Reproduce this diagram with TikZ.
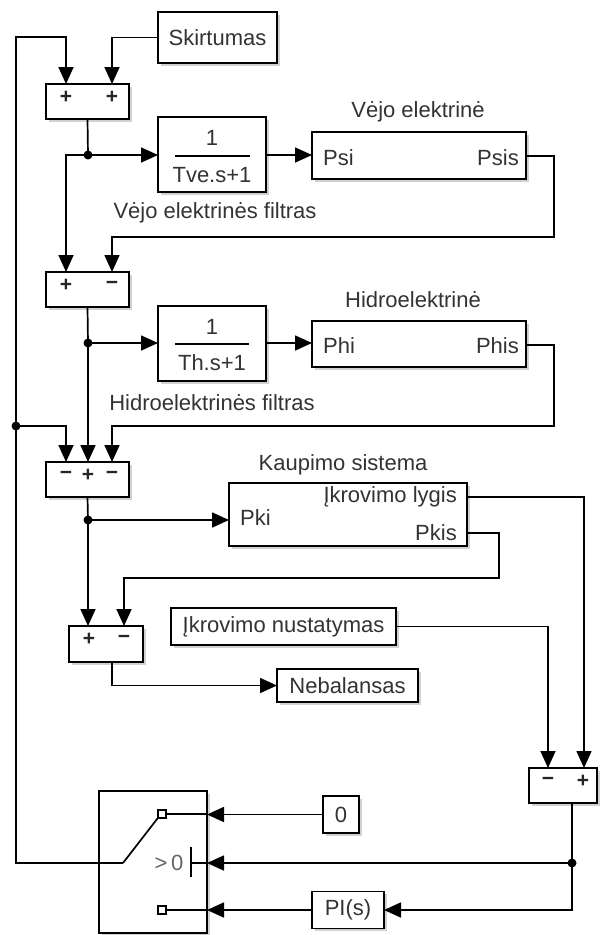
\documentclass[tikz,border=0pt]{standalone}
\usepackage{fontspec}
\setmainfont{Liberation Sans}
\usetikzlibrary{arrows.meta,shadows,calc}
\begin{document}
\begin{tikzpicture}[x=1pt,y=-1pt,
  ln/.style={line width=1.7pt, draw=black},
  arr/.style={ln, -{Triangle[length=17pt,width=15pt]}},
  blk/.style={draw=black, line width=1.7pt, fill=white,
     drop shadow={shadow xshift=2.5pt, shadow yshift=-2.5pt, fill=black!40, opacity=0.45},
     inner sep=0pt, outer sep=0pt, text=black!80, font=\fontsize{22}{26}\selectfont},
  lbl/.style={text=black!80, font=\fontsize{22}{26}\selectfont, inner sep=0pt},
  sgn/.style={font=\fontsize{21}{22}\selectfont\bfseries, text=black!85, inner sep=0pt},
  jdot/.style={circle, fill=black, inner sep=0pt, minimum size=9pt},
  port/.style={draw=black, line width=1.3pt, fill=white, inner sep=0pt, minimum size=8pt},
]
\useasboundingbox (0,0) rectangle (600,935);

% ---------- blocks ----------
\node[blk, minimum width=119, minimum height=51] (skirt) at (217.5,37.5) {Skirtumas};
\node[blk, minimum width=83, minimum height=35] (sum1) at (87.5,101.5) {};
\node[blk, minimum width=108, minimum height=75] (filt1) at (212,154.5) {};
\node[blk, minimum width=214, minimum height=47] (vejo) at (419,155.5) {};
\node[blk, minimum width=83, minimum height=35] (sum2) at (87.5,289.5) {};
\node[blk, minimum width=108, minimum height=75] (filt2) at (212,343.5) {};
\node[blk, minimum width=214, minimum height=46] (hidro) at (419,344) {};
\node[blk, minimum width=83, minimum height=35] (sum3) at (87.5,479.5) {};
\node[blk, minimum width=238, minimum height=63] (kaup) at (348,514.5) {};
\node[blk, minimum width=74, minimum height=36] (sum4) at (106,644) {};
\node[blk, minimum width=225, minimum height=37] (ikrn) at (283.5,626.5) {Įkrovimo nustatymas};
\node[blk, minimum width=141, minimum height=33] (neb) at (347.5,685.5) {Nebalansas};
\node[blk, minimum width=68, minimum height=35] (sum5) at (563,785.5) {};
\node[blk, minimum width=108, minimum height=142] (sw) at (153,862) {};
\node[blk, minimum width=36, minimum height=37] (zero) at (341,814.5) {0};
\node[blk, minimum width=72, minimum height=37] (pi) at (348,910) {PI(s)};

% ---------- block contents ----------
\node[lbl] (f1n) at (212,138) {1};
\draw[line width=1.7pt] (175,156) -- (250,156);
\node[lbl] (f1d) at (212,175) {Tve.s+1};
\node[lbl] (f2n) at (212,327) {1};
\draw[line width=1.7pt] (175,344) -- (249,344);
\node[lbl] (f2d) at (212,363) {Th.s+1};

\node[lbl, anchor=west] (psi) at (323,158) {Psi};
\node[lbl, anchor=east] (psisl) at (519,158) {Psis};
\node[lbl, anchor=west] (phi) at (323,346) {Phi};
\node[lbl, anchor=east] (phisl) at (519,346) {Phis};
\node[lbl, anchor=west] (pki) at (240,518) {Pki};
\node[lbl, anchor=east] (lyg) at (457,497) {Įkrovimo lygis};
\node[lbl, anchor=east] (pkisl) at (457,533) {Pkis};

\node[lbl] (l1) at (215,213) {Vėjo elektrinės filtras};
\node[lbl] (l2) at (418,112) {Vėjo elektrinė};
\node[lbl] (l3) at (212,403) {Hidroelektrinės filtras};
\node[lbl] (l4) at (413,300) {Hidroelektrinė};
\node[lbl] (l5) at (343,465) {Kaupimo sistema};

% signs
\node[sgn] at (66,97) {+};  \node[sgn] at (112,97) {+};
\node[sgn] at (66,285) {+};  \node[sgn] at (112,285) {−};
\node[sgn] at (66,475) {−};  \node[sgn] at (88,475) {+}; \node[sgn] at (112,475) {−};
\node[sgn] at (89,639) {+};  \node[sgn] at (124,639) {−};
\node[sgn] at (548,781) {−}; \node[sgn] at (583,781) {+};

% switch internals
\node[port] (sq1) at (162,814) {};
\node[port] (sq3) at (162,910) {};
\coordinate (swo) at (123,863);
\draw[line width=1.7pt] (sq1.east) -- (sq1.east -| sw.east);
\draw[line width=1.7pt] (sq3.east) -- (sq3.east -| sw.east);
\draw[line width=1.7pt] (swo) -- (sq1.south west);
\node[text=black!60, font=\fontsize{22}{24}\selectfont, inner sep=0pt] (gt) at (169,863) {>\,0};
\coordinate (bar) at (191,863);
\draw[line width=1.7pt] (191,847) -- (191,877);
\draw[line width=1.7pt] (bar) -- (bar -| sw.east);

% ---------- coordinates ----------
\coordinate (p1a) at (66,84);  \coordinate (p1b) at (112,84);
\coordinate (p2a) at (66,272); \coordinate (p2b) at (112,272);
\coordinate (p3a) at (66,462); \coordinate (p3b) at (88,462); \coordinate (p3c) at (112,462);
\coordinate (p4a) at (88,626); \coordinate (p4b) at (124,626);
\coordinate (p5a) at (548,768); \coordinate (p5b) at (584,768);
\coordinate (j1) at (88,155);
\coordinate (j2) at (88,343);
\coordinate (j3) at (88,520);
\coordinate (jL) at (16,426);
\coordinate (j5) at (572,863);
\coordinate (psis) at (526,156);
\coordinate (phis) at (526,345);
\coordinate (lygo) at (467,497);
\coordinate (pkis) at (467,533);
\coordinate (s4o) at (112,662);
\coordinate (s5o) at (572,803);

% ---------- connectors ----------
\draw[arr] (swo) -- (16,863) -- (16,37) -| (p1a);
\draw[arr] (skirt.west) -| (p1b);
\draw[ln] (sum1.south) -- (j1);
\draw[arr] (j1) -- (j1 -| filt1.west);
\draw[arr] (j1) -| (p2a);
\draw[arr] (filt1.east |- j1) -- (j1 -| vejo.west);
\draw[arr] (psis) -- (554,156) |- (112,237) -- (p2b);

\draw[ln] (sum2.south) -- (j2);
\draw[arr] (j2) -- (j2 -| filt2.west);
\draw[arr] (j2) -- (p3b);
\draw[arr] (filt2.east |- j2) -- (j2 -| hidro.west);
\draw[arr] (phis) -- (554,345) |- (112,426) -- (p3c);
\draw[arr] (jL) -| (p3a);

\draw[ln] (sum3.south) -- (j3);
\draw[arr] (j3) -- (j3 -| kaup.west);
\draw[arr] (j3) -- (p4a);
\draw[arr] (pkis) -- (499,533) |- (124,578) -- (p4b);
\draw[arr] (s4o) |- (neb.west);

\draw[arr] (lygo) -| (p5b);
\draw[arr] (ikrn.east) -| (p5a);
\draw[ln] (s5o) -- (j5);
\draw[arr] (j5) -- (j5 -| sw.east);
\draw[arr] (j5) |- (pi.east);
\draw[arr] (pi.west) -- (pi.west -| sw.east);
\draw[arr] (zero.west) -- (zero.west -| sw.east);

\foreach \j in {j1,j2,j3,jL,j5} \node[jdot] at (\j) {};
\end{tikzpicture}
\end{document}
